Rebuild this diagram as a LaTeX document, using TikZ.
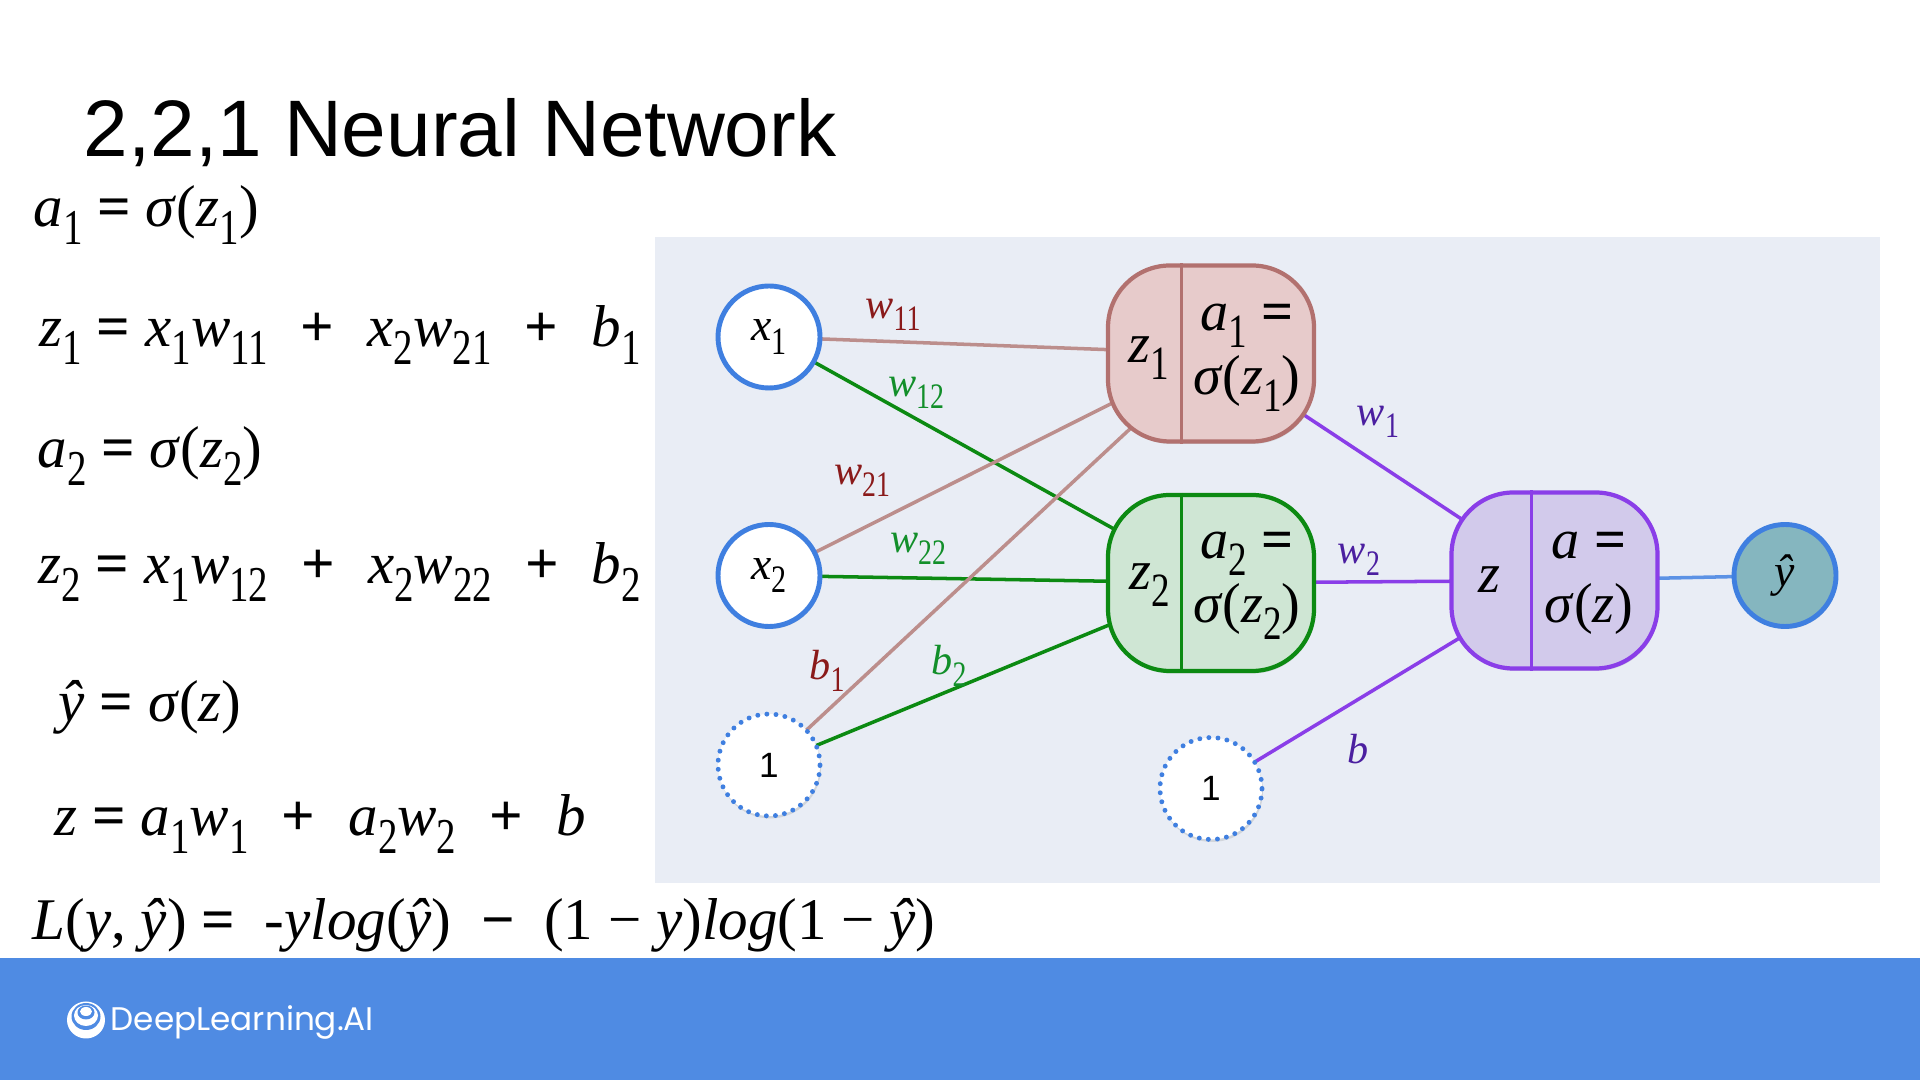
\documentclass[tikz,border=0pt]{standalone}
\usepackage{fontspec}
\setmainfont{Liberation Serif}
\setsansfont{Liberation Sans}
\newfontfamily\logofont{Poppins}
\usetikzlibrary{arrows.meta, positioning, calc, backgrounds, shadows}

\definecolor{panelbg}{HTML}{E9EDF5}
\definecolor{bandblue}{HTML}{4F8BE3}
\definecolor{circblue}{HTML}{3F7FE0}
\definecolor{redline}{HTML}{B2716F}
\definecolor{redfill}{HTML}{E7CBCB}
\definecolor{redtext}{HTML}{8A1A1A}
\definecolor{edgered}{HTML}{BC8E8C}
\definecolor{greenline}{HTML}{0C8A12}
\definecolor{greenfill}{HTML}{CFE6D4}
\definecolor{greentext}{HTML}{128F2A}
\definecolor{purpline}{HTML}{8A3EE8}
\definecolor{purpfill}{HTML}{D2CAEB}
\definecolor{purptext}{HTML}{4B1FA0}
\definecolor{tealfill}{HTML}{85B6BF}

\newcommand{\sbs}[1]{\raisebox{-0.3em}{\scalebox{0.66}[0.85]{#1}}}
\newcommand{\mv}[1]{\textit{#1}}
\newcommand{\eqs}{\textbf{=}}
\newcommand{\pls}{\hspace{0.56em}\textbf{+}\hspace{0.56em}}

\begin{document}
\begin{tikzpicture}[
    softshadow/.style={drop shadow={shadow xshift=0.3pt, shadow yshift=-0.7pt, opacity=0.22}},
    inputnode/.style={circle, draw=circblue, fill=white, line width=1.4pt, minimum size=1.02cm, inner sep=0pt, softshadow, font=\fontsize{13}{14}\selectfont},
    biasnode/.style={circle, draw=circblue, fill=white, line width=1.4pt, line cap=round, dash pattern=on 0pt off 2.6pt, minimum size=1.02cm, inner sep=0pt, softshadow, font=\sffamily\fontsize{10}{12}\selectfont},
    unitbox/.style={rounded corners=0.62cm, line width=1.2pt, minimum width=2.06cm, minimum height=1.76cm, inner sep=0pt, softshadow},
    unittext/.style={font=\fontsize{16}{18.2}\selectfont, align=center, inner sep=0pt},
    eqnline/.style={anchor=base west, inner sep=0pt, font=\fontsize{16.8}{19}\selectfont},
    weightlabel/.style={font=\fontsize{12}{13}\selectfont},
    connector/.style={line width=1pt}
]
\useasboundingbox (0,0) rectangle (19.2,10.8);

% Title
\node[anchor=base west, inner sep=0pt, font=\sffamily\fontsize{22.8}{26}\selectfont] (title) at (0.83,9.23) {2,2,1 Neural Network};

% Equations
\node[eqnline] (eqaone) at (0.33,8.53) {\mv{a}\sbs{1} \eqs{} \mv{σ}(\mv{z}\sbs{1})};
\node[eqnline] (eqzone) at (0.39,7.33) {\mv{z}\sbs{1} \eqs{} \mv{x}\sbs{1}\mv{w}\sbs{11}\pls{}\mv{x}\sbs{2}\mv{w}\sbs{21}\pls{}\mv{b}\sbs{1}};
\node[eqnline] (eqatwo) at (0.37,6.12) {\mv{a}\sbs{2} \eqs{} \mv{σ}(\mv{z}\sbs{2})};
\node[eqnline] (eqztwo) at (0.38,4.96) {\mv{z}\sbs{2} \eqs{} \mv{x}\sbs{1}\mv{w}\sbs{12}\pls{}\mv{x}\sbs{2}\mv{w}\sbs{22}\pls{}\mv{b}\sbs{2}};
\node[eqnline] (eqyhat) at (0.58,3.58) {\mv{ŷ} \eqs{} \mv{σ}(\mv{z})};
\node[eqnline] (eqz) at (0.54,2.44) {\mv{z} \eqs{} \mv{a}\sbs{1}\mv{w}\sbs{1}\pls{}\mv{a}\sbs{2}\mv{w}\sbs{2}\pls{}\mv{b}};
\node[eqnline] (eqloss) at (0.32,1.40) {\mv{L}(\mv{y}, \mv{ŷ}) \eqs{} \ -\mv{ylog}(\mv{ŷ}) \ \textbf{−} \ (1 − \mv{y})\mv{log}(1 − \mv{ŷ})};

% Input circles
\node[inputnode] (xone) at (7.69,7.43) {\mv{x}\sbs{1}};
\node[inputnode] (xtwo) at (7.69,5.045) {\mv{x}\sbs{2}};
\node[biasnode] (oneleft) at (7.69,3.15) {1};
\node[biasnode] (oneright) at (12.11,2.915) {1};
\node[inputnode, fill=tealfill] (yhat) at (17.85,5.045) {\mv{ŷ}};

% Hidden units
\node[unitbox, draw=redline, fill=redfill] (zone) at (12.11,7.265) {};
\node[unitbox, draw=greenline, fill=greenfill] (ztwo) at (12.11,4.97) {};
\node[unitbox, draw=purpline, fill=purpfill] (zout) at (15.545,4.995) {};

% Dividers
\draw[redline, connector] ($(zone.north west)!0.36!(zone.north east)$) -- ($(zone.south west)!0.36!(zone.south east)$);
\draw[greenline, connector] ($(ztwo.north west)!0.36!(ztwo.north east)$) -- ($(ztwo.south west)!0.36!(ztwo.south east)$);
\draw[purpline, connector] ($(zout.north west)!0.39!(zout.north east)$) -- ($(zout.south west)!0.39!(zout.south east)$);

% Unit texts
\node[unittext] (zonetxt) at (11.49,7.22) {\mv{z}\sbs{1}};
\node[unittext] (aonetxt) at (12.47,7.22) {\mv{a}\sbs{1} \eqs{}\\\mv{σ}(\mv{z}\sbs{1})};
\node[unittext] (ztwotxt) at (11.50,4.95) {\mv{z}\sbs{2}};
\node[unittext] (atwotxt) at (12.47,4.94) {\mv{a}\sbs{2} \eqs{}\\\mv{σ}(\mv{z}\sbs{2})};
\node[unittext] (zouttxt) at (14.89,5.0) {\mv{z}};
\node[unittext] (aouttxt) at (15.89,4.97) {\mv{a} \eqs{}\\\mv{σ}(\mv{z})};

% Weight labels
\node[weightlabel, text=redtext] (wonea) at (8.93,7.65) {\mv{w}\sbs{11}};
\node[weightlabel, text=greentext] (woneb) at (9.16,6.87) {\mv{w}\sbs{12}};
\node[weightlabel, text=redtext] (wtwoa) at (8.62,5.99) {\mv{w}\sbs{21}};
\node[weightlabel, text=greentext] (wtwob) at (9.18,5.31) {\mv{w}\sbs{22}};
\node[weightlabel, text=redtext] (bone) at (8.27,4.09) {\mv{b}\sbs{1}};
\node[weightlabel, text=greentext] (btwo) at (9.49,4.14) {\mv{b}\sbs{2}};
\node[weightlabel, text=purptext] (wout) at (13.78,6.58) {\mv{w}\sbs{1}};
\node[weightlabel, text=purptext] (wouttwo) at (13.59,5.20) {\mv{w}\sbs{2}};
\node[weightlabel, text=purptext] (bout) at (13.58,3.31) {\mv{b}};

% Panel and connectors behind the nodes
\begin{scope}[on background layer]
\fill[white] (0,0) rectangle (19.2,10.8);
\fill[panelbg] (6.55,1.97) rectangle (18.80,8.43);
\draw[edgered, connector] (xone.center) -- (zone.center);
\draw[greenline, connector] (xone.center) -- (ztwo.center);
\draw[edgered, connector] (xtwo.center) -- (zone.center);
\draw[greenline, connector] (xtwo.center) -- (ztwo.center);
\draw[edgered, connector] (oneleft.center) -- (zone.center);
\draw[greenline, connector] (oneleft.center) -- (ztwo.center);
\draw[purpline, connector] (zone.center) -- (zout.center);
\draw[purpline, connector] (ztwo.center) -- (zout.center);
\draw[purpline, connector] (oneright.center) -- (zout.center);
\draw[circblue!85!white, connector] (zout.center) -- (yhat.center);
\fill[bandblue] (0,0) rectangle (19.2,1.22);
\end{scope}

% Logo
\fill[white] (0.86,0.60) ellipse (0.19 and 0.185);
\fill[bandblue] (0.86,0.635) ellipse (0.145 and 0.135);
\fill[white] (0.86,0.645) ellipse (0.12 and 0.105);
\fill[bandblue] (0.86,0.675) ellipse (0.085 and 0.07);
\fill[white] (0.86,0.685) ellipse (0.06 and 0.045);
\node[anchor=base west, inner sep=0pt, text=white, font=\logofont\fontsize{9.3}{11}\selectfont] (logotxt) at (1.10,0.495) {DeepLearning.AI};

\end{tikzpicture}
\end{document}
